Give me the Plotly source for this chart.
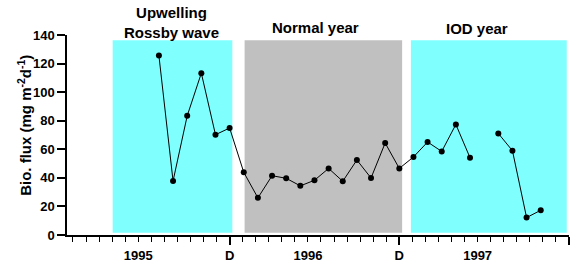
import plotly.graph_objects as go

# Data: months since start of 1995 (12 = end of Dec 1995)
months = list(range(7, 35))
flux = [125.6, 37.8, 83.4, 113.3, 70.2, 74.9,
        43.9, 26.0, 41.5, 39.7, 34.4, 38.3, 46.6, 37.6, 52.5, 39.9, 64.4, 46.6,
        54.6, 65.1, 58.5, 77.4, 54.1, None, 71.1, 59.0, 12.2, 17.3]

# Period shading (x0, x1 in months)
periods = [(3.73, 12.19, "#80FFFF"), (13.06, 24.2, "#C0C0C0"), (24.82, 35.84, "#80FFFF")]
period_labels = ["Upwelling<br>Rossby wave", "Normal year", "IOD year"]
period_label_x = [7.9, 18.1, 29.5]

major_ticks = [12, 24, 36]
major_text = ["D", "D", "D"]
year_pos = [6 * 12 / 13, 19 * 12 / 13, 32 * 12 / 13]
year_text = ["1995", "1996", "1997"]

FONT = "Liberation Sans, Arial, sans-serif"

fig = go.Figure()
fig.add_trace(go.Scatter(x=months, y=flux, mode="lines+markers",
                         line=dict(color="black", width=1),
                         marker=dict(color="black", size=6),
                         connectgaps=False, showlegend=False))
# dummy trace for the year-label axis
fig.add_trace(go.Scatter(x=[None], y=[None], xaxis="x2", showlegend=False))

shapes = []
for x0, x1, c in periods:
    shapes.append(dict(type="rect", xref="x", yref="y", x0=x0, x1=x1, y0=1.5, y1=136.3,
                       fillcolor=c, line=dict(width=0), layer="below"))

label_shift = [-3, 2, 1]
annotations = []
for lx, lt, ys in zip(period_label_x, period_labels, label_shift):
    annotations.append(dict(x=lx, xref="x", y=136.3, yref="y", text="<b>" + lt + "</b>",
                            showarrow=False, yanchor="bottom", yshift=ys,
                            font=dict(family=FONT, size=15, color="black")))

# y-axis title as a rotated annotation
annotations.append(dict(x=-0.084, xref="paper", y=0.55, yref="paper",
                        text="<b>Bio. flux (mg m<sup>-2</sup>d<sup>-1</sup>)</b>",
                        textangle=-90, showarrow=False, xanchor="center", yanchor="middle",
                        font=dict(family=FONT, size=15, color="black")))

fig.update_layout(
    width=573, height=269,
    margin=dict(l=67, r=4, t=35, b=34),
    paper_bgcolor="white", plot_bgcolor="white",
    font=dict(family=FONT, size=13, color="black"),
    shapes=shapes, annotations=annotations,
    xaxis=dict(range=[0.5, 36], showgrid=False, zeroline=False, automargin=False,
               showline=True, linecolor="black", linewidth=1.5,
               tickmode="array", tickvals=major_ticks, ticktext=major_text,
               ticks="outside", ticklen=8, tickwidth=1.5, tickcolor="black",
               tickfont=dict(family=FONT, size=13, color="black", weight="bold"),
               minor=dict(tick0=0, dtick=12 / 13, ticks="outside", ticklen=5,
                          tickwidth=1.2, tickcolor="black", showgrid=False)),
    xaxis2=dict(range=[0.5, 36], overlaying="x", side="bottom", showgrid=False,
                zeroline=False, showline=False, automargin=False, tickmode="array",
                tickvals=year_pos, ticktext=year_text, ticks="outside", ticklen=8,
                tickcolor="rgba(0,0,0,0)",
                tickfont=dict(family=FONT, size=13, color="black", weight="bold")),
    yaxis=dict(range=[0, 140], showgrid=False, zeroline=False, automargin=False,
               showline=True, linecolor="black", linewidth=1.5,
               tickmode="array", tickvals=[0, 20, 40, 60, 80, 100, 120, 140],
               ticks="outside", ticklen=8, tickwidth=1.5, tickcolor="black",
               tickfont=dict(family=FONT, size=13, color="black", weight="bold")),
)

fig.write_html("out.html", config={"displayModeBar": False},
               post_script="document.body.style.margin='0';document.body.style.overflow='hidden';")
